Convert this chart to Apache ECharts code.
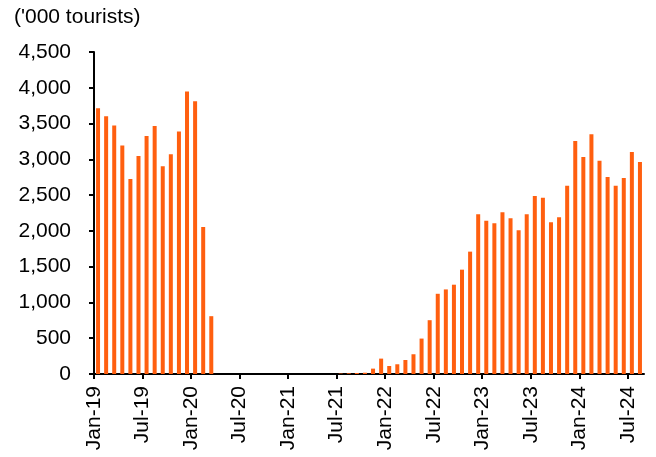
<!DOCTYPE html>
<html>
<head>
<meta charset="utf-8">
<script src="https://cdn.jsdelivr.net/npm/echarts@6/dist/echarts.min.js"></script>
<style>
html,body{margin:0;padding:0;background:#fff;}
#c{width:656px;height:457px;}
</style>
</head>
<body>
<div id="c"></div>
<script>
// Monthly values, Jan-19 .. Aug-24 ('000 tourists)
var months = [];
(function(){
  var mn = ['Jan','Feb','Mar','Apr','May','Jun','Jul','Aug','Sep','Oct','Nov','Dec'];
  for (var y = 19; y <= 24; y++) for (var m = 0; m < 12; m++) months.push(mn[m] + '-' + y);
  months = months.slice(0, 68);
})();
var values2019 = [3715, 3603, 3472, 3192, 2724, 3047, 3327, 3467, 2902, 3070, 3388, 3949];
var values2020 = [3813, 2056, 808, 0, 0, 0, 0, 0, 0, 0, 0, 0];
var values2021 = [0, 0, 0, 0, 0, 0, 6, 10, 14, 18, 75, 215];
var values2022 = [112, 136, 196, 276, 495, 752, 1121, 1182, 1248, 1458, 1710, 2234];
var values2023 = [2140, 2107, 2262, 2178, 2009, 2234, 2486, 2463, 2121, 2192, 2631, 3257];
var values2024 = [3033, 3350, 2981, 2752, 2631, 2738, 3103, 2963];
var tickLabels = ['Jan-19','Jul-19','Jan-20','Jul-20','Jan-21','Jul-21','Jan-22','Jul-22','Jan-23','Jul-23','Jan-24','Jul-24'];
var yTicks = [0, 500, 1000, 1500, 2000, 2500, 3000, 3500, 4000, 4500];

var allValues = values2019.concat(values2020, values2021, values2022, values2023, values2024);
var barData = allValues.map(function(v, i){ return [i + 0.5, v]; });
var tickPos = tickLabels.map(function(_, i){ return i * 6; });

var chart = echarts.init(document.getElementById('c'));
var font = 'Liberation Sans, Arial, sans-serif';
chart.setOption({
  animation: false,
  backgroundColor: '#fff',
  grid: { left: 94, right: 12, top: 52, bottom: 83, containLabel: false },
  graphic: [{
    type: 'text', left: 14, top: 7,
    style: { text: "('000 tourists)", font: '21px ' + font, fill: '#000' }
  }],
  xAxis: {
    type: 'value', min: 0, max: 68, interval: 6,
    splitLine: { show: false },
    axisLine: { show: true, onZero: false, lineStyle: { color: '#000', width: 2 } },
    axisTick: { show: true, length: 5, customValues: tickPos, lineStyle: { color: '#000', width: 2 } },
    axisLabel: {
      customValues: tickPos, rotate: 90, margin: 12,
      color: '#000', fontSize: 21, fontFamily: font,
      formatter: function(v){ return tickLabels[Math.round(v / 6)] || ''; }
    }
  },
  yAxis: {
    type: 'value', min: 0, max: 4500, interval: 500,
    splitLine: { show: false },
    axisLine: { show: true, lineStyle: { color: '#000', width: 2 } },
    axisTick: { show: true, length: 5, inside: false, lineStyle: { color: '#000', width: 2 } },
    axisLabel: {
      customValues: yTicks,
      color: '#000', fontSize: 21, fontFamily: font, margin: 23,
      formatter: function(v){ return v.toString().replace(/\B(?=(\d{3})+(?!\d))/g, ','); }
    }
  },
  series: [{
    type: 'bar', data: barData, barWidth: 4,
    itemStyle: { color: '#FF5F0F' }
  }]
});
</script>
</body>
</html>
